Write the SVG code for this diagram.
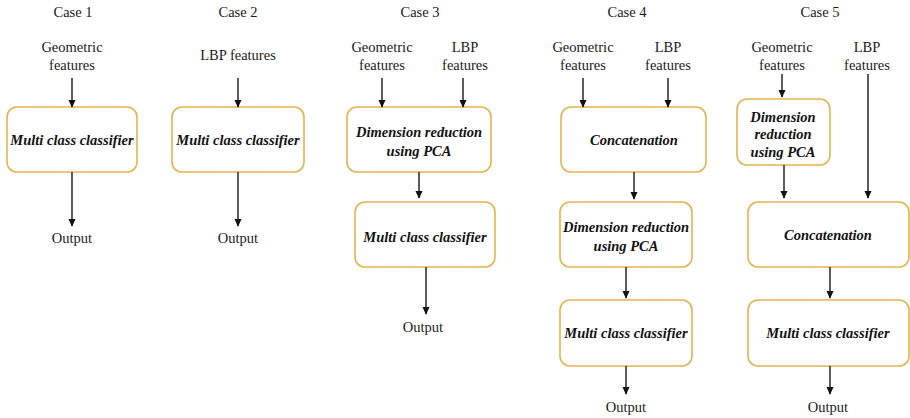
<svg xmlns="http://www.w3.org/2000/svg" width="910" height="418" viewBox="0 0 910 418">
<style>
text{font-family:"Liberation Serif","Times New Roman",serif;font-size:14.5px;fill:#1a1a1a;text-anchor:middle}
.b{font-family:"Liberation Serif","Times New Roman",serif;font-weight:bold;font-style:italic;fill:#111}
rect{fill:#fff;stroke:#e2b452;stroke-width:1.6}
.c line{stroke:#333;stroke-width:1.6}
</style>
<defs>
<marker id="ah" viewBox="0 0 10 10" refX="9" refY="5" markerWidth="8" markerHeight="8" orient="auto" markerUnits="userSpaceOnUse">
<path d="M0,0.5 L10,5 L0,9.5 z" fill="#111"/>
</marker>
</defs>
<rect x="0" y="0" width="910" height="418" style="fill:#fff;stroke:none"/>

<g id="titles">
<text x="73" y="17">Case 1</text>
<text x="238" y="17">Case 2</text>
<text x="420" y="17">Case 3</text>
<text x="627" y="17">Case 4</text>
<text x="820" y="17">Case 5</text>
</g>

<g id="case1">
<g id="c1-in"><text x="72" y="52">Geometric</text><text x="72" y="70">features</text></g>
<g id="c1-mcc"><rect x="7" y="107" width="130" height="65" rx="10"/><text class="b" x="72" y="145">Multi class classifier</text></g>
<g id="c1-out"><text x="72" y="243">Output</text></g>
</g>

<g id="case2">
<g id="c2-in"><text x="238" y="60">LBP features</text></g>
<g id="c2-mcc"><rect x="172" y="107" width="132" height="65" rx="10"/><text class="b" x="238" y="145">Multi class classifier</text></g>
<g id="c2-out"><text x="238" y="243">Output</text></g>
</g>

<g id="case3">
<g id="c3-geo"><text x="382" y="52">Geometric</text><text x="382" y="70">features</text></g>
<g id="c3-lbp"><text x="465" y="52">LBP</text><text x="465" y="70">features</text></g>
<g id="c3-pca"><rect x="347" y="107" width="144" height="65" rx="10"/><text class="b" x="419" y="137">Dimension reduction</text><text class="b" x="419" y="156">using PCA</text></g>
<g id="c3-mcc"><rect x="355" y="202" width="140" height="65" rx="10"/><text class="b" x="425" y="242">Multi class classifier</text></g>
<g id="c3-out"><text x="423" y="332">Output</text></g>
</g>

<g id="case4">
<g id="c4-geo"><text x="583" y="52">Geometric</text><text x="583" y="70">features</text></g>
<g id="c4-lbp"><text x="668" y="52">LBP</text><text x="668" y="70">features</text></g>
<g id="c4-cat"><rect x="561" y="107" width="145" height="65" rx="10"/><text class="b" x="634" y="145">Concatenation</text></g>
<g id="c4-pca"><rect x="560" y="202" width="132" height="65" rx="10"/><text class="b" x="626" y="232">Dimension reduction</text><text class="b" x="626" y="251">using PCA</text></g>
<g id="c4-mcc"><rect x="560" y="300" width="132" height="66" rx="10"/><text class="b" x="626" y="338">Multi class classifier</text></g>
<g id="c4-out"><text x="626" y="412">Output</text></g>
</g>

<g id="case5">
<g id="c5-geo"><text x="782" y="52">Geometric</text><text x="782" y="70">features</text></g>
<g id="c5-lbp"><text x="867" y="52">LBP</text><text x="867" y="70">features</text></g>
<g id="c5-pca"><rect x="737" y="99" width="93" height="66" rx="10"/><text class="b" x="783" y="122">Dimension</text><text class="b" x="783" y="139">reduction</text><text class="b" x="783" y="157">using PCA</text></g>
<g id="c5-cat"><rect x="748" y="202" width="161" height="65" rx="10"/><text class="b" x="828" y="240">Concatenation</text></g>
<g id="c5-mcc"><rect x="748" y="300" width="161" height="66" rx="10"/><text class="b" x="828" y="338">Multi class classifier</text></g>
<g id="c5-out"><text x="828" y="412">Output</text></g>
</g>

<g id="connectors" class="c">
<line x1="72" y1="78" x2="72" y2="107" marker-end="url(#ah)"/>
<line x1="72" y1="172" x2="72" y2="226" marker-end="url(#ah)"/>
<line x1="238" y1="78" x2="238" y2="107" marker-end="url(#ah)"/>
<line x1="238" y1="172" x2="238" y2="226" marker-end="url(#ah)"/>
<line x1="382" y1="78" x2="382" y2="107" marker-end="url(#ah)"/>
<line x1="463" y1="78" x2="463" y2="107" marker-end="url(#ah)"/>
<line x1="419" y1="172" x2="419" y2="198" marker-end="url(#ah)"/>
<line x1="426" y1="267" x2="426" y2="314" marker-end="url(#ah)"/>
<line x1="583" y1="78" x2="583" y2="107" marker-end="url(#ah)"/>
<line x1="668" y1="78" x2="668" y2="107" marker-end="url(#ah)"/>
<line x1="634" y1="172" x2="634" y2="199" marker-end="url(#ah)"/>
<line x1="626" y1="267" x2="626" y2="298" marker-end="url(#ah)"/>
<line x1="626" y1="366" x2="626" y2="394" marker-end="url(#ah)"/>
<line x1="782" y1="74" x2="782" y2="97" marker-end="url(#ah)"/>
<line x1="784" y1="165" x2="784" y2="198" marker-end="url(#ah)"/>
<line x1="868" y1="74" x2="868" y2="198" marker-end="url(#ah)"/>
<line x1="830" y1="267" x2="830" y2="298" marker-end="url(#ah)"/>
<line x1="830" y1="366" x2="830" y2="394" marker-end="url(#ah)"/>
</g>
</svg>
